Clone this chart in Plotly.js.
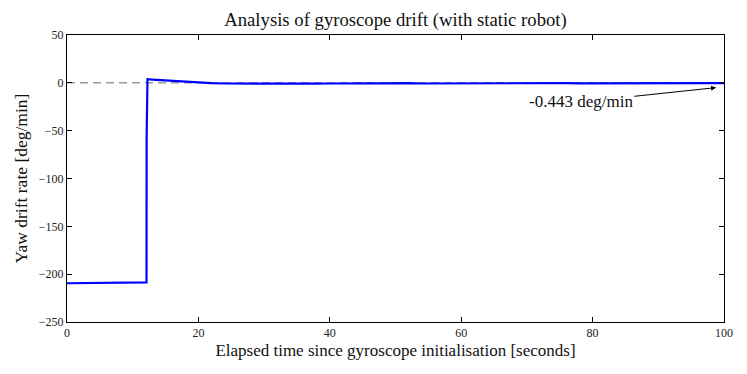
<!DOCTYPE html>
<html>
<head>
<meta charset="utf-8">
<script src="https://cdn.plot.ly/plotly-3.0.1.min.js"></script>
<style>
  html, body { margin: 0; padding: 0; background: #fff; }
  #chart { width: 747px; height: 374px; }
</style>
</head>
<body>
<div id="chart"></div>
<script>
// elapsed time [s] and yaw drift rate [deg/min]
const timeSec = [0, 2, 4, 6, 8, 10, 12.1, 12.12, 12.25, 13, 14, 15, 16, 17, 18, 19, 20,
  22, 24, 26, 28, 30, 32, 34, 36, 38, 40, 42, 44, 46, 48, 50, 52, 54, 56, 58, 60,
  62, 64, 66, 68, 70, 72, 74, 76, 78, 80, 82, 84, 86, 88, 90, 92, 94, 96, 98, 100];
const driftRate = [-209.5, -209.3, -209.2, -209, -208.9, -208.8, -208.6, -58, 3.8, 3.4, 2.9, 2.4, 1.9, 1.4, 0.9, 0.5, 0.1,
  -0.4, -0.7, -0.8, -0.6, -0.9, -0.7, -0.5, -0.8, -0.9, -0.7, -0.9, -1.1, -0.6, -0.5, -0.3, -0.4, -0.7, -0.6, -0.5, -0.4,
  -0.6, -0.5, -0.3, -0.4, -0.5, -0.2, -0.4, -0.3, -0.5, -0.4, -0.3, -0.2, -0.4, -0.3, -0.2, -0.4, -0.3, -0.1, -0.3, -0.4];

const xTicks = [0, 20, 40, 60, 80, 100];
const yTicks = [50, 0, -50, -100, -150, -200, -250];

const font = 'Liberation Serif, Times New Roman, serif';

const zeroLine = {
  x: [0, 100],
  y: [0, 0],
  type: 'scatter',
  mode: 'lines',
  line: { color: '#444444', width: 0.8, dash: '8px,5px' },
  hoverinfo: 'skip'
};

const drift = {
  x: timeSec,
  y: driftRate,
  type: 'scatter',
  mode: 'lines',
  line: { color: '#0000ff', width: 2.2 }
};

const axisStyle = {
  showline: true,
  linecolor: '#000',
  linewidth: 1,
  mirror: 'ticks',
  ticks: 'inside',
  ticklen: 5,
  tickcolor: '#000',
  showgrid: false,
  zeroline: false,
  tickfont: { family: font, size: 12, color: '#222' }
};

const layout = {
  width: 747,
  height: 374,
  margin: { l: 67, r: 23, t: 35, b: 52 },
  paper_bgcolor: '#fff',
  plot_bgcolor: '#fff',
  showlegend: false,
  title: {
    text: 'Analysis of gyroscope drift (with static robot)',
    font: { family: font, size: 18.7, color: '#111' },
    x: 0.5, xref: 'paper', y: 0.965
  },
  xaxis: Object.assign({}, axisStyle, {
    range: [0, 100],
    tickvals: xTicks,
    title: { text: 'Elapsed time since gyroscope initialisation [seconds]', font: { family: font, size: 17, color: '#111' }, standoff: 4 }
  }),
  yaxis: Object.assign({}, axisStyle, {
    range: [-250, 50],
    tickvals: yTicks,
    title: { text: 'Yaw drift rate [deg/min]', font: { family: font, size: 17.5, color: '#111' }, standoff: 6 }
  }),
  annotations: [{
    x: 98.8, y: -5,
    xref: 'x', yref: 'y',
    ax: 78.2, ay: -20,
    axref: 'x', ayref: 'y',
    text: '-0.443 deg/min',
    font: { family: font, size: 17, color: '#111' },
    showarrow: true,
    arrowhead: 2,
    arrowsize: 1,
    arrowwidth: 1,
    arrowcolor: '#000'
  }]
};

Plotly.newPlot('chart', [zeroLine, drift], layout, { displayModeBar: false, staticPlot: true });
</script>
</body>
</html>
